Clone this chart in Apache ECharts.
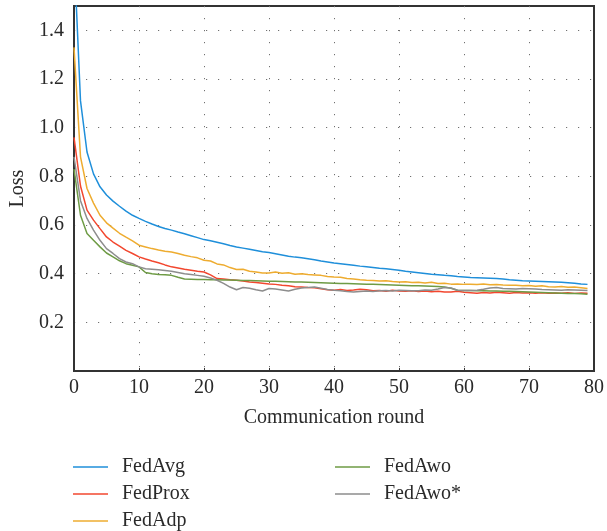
<!DOCTYPE html>
<html>
<head>
<meta charset="utf-8">
<style>html,body{margin:0;padding:0;background:#fff;}#chart{width:607px;height:531px;}</style>
<script src="https://cdn.jsdelivr.net/npm/echarts@6/dist/echarts.min.js"></script>
</head>
<body>
<div id="chart"></div>
<script>
const rounds = Array.from({length: 80}, (_, i) => i);
const seriesNames = ['FedAvg', 'FedProx', 'FedAdp', 'FedAwo', 'FedAwo*'];
const fedAvg = [1.72,1.11,0.90,0.81,0.757,0.723,0.698,0.677,0.657,0.640,0.627,
0.615,0.604,0.594,0.586,0.579,0.571,0.564,0.556,0.548,0.540,
0.535,0.529,0.523,0.516,0.510,0.505,0.500,0.495,0.490,0.487,
0.482,0.477,0.472,0.468,0.465,0.461,0.457,0.452,0.448,0.444,
0.441,0.438,0.435,0.431,0.428,0.425,0.422,0.420,0.417,0.414,
0.410,0.407,0.404,0.401,0.398,0.396,0.393,0.391,0.388,0.386,
0.384,0.383,0.382,0.381,0.380,0.378,0.375,0.373,0.371,0.370,
0.369,0.368,0.367,0.366,0.365,0.363,0.361,0.358,0.356];
const fedProx = [0.96,0.76,0.661,0.62,0.585,0.551,0.53,0.513,0.496,0.483,0.469,
0.460,0.452,0.445,0.436,0.428,0.423,0.418,0.414,0.410,0.407,
0.395,0.380,0.378,0.375,0.373,0.370,0.366,0.364,0.361,0.358,
0.356,0.352,0.350,0.346,0.345,0.343,0.342,0.338,0.334,0.332,
0.335,0.331,0.333,0.336,0.334,0.330,0.331,0.328,0.332,0.329,
0.328,0.330,0.327,0.329,0.326,0.328,0.325,0.325,0.328,0.324,
0.322,0.320,0.323,0.321,0.324,0.322,0.320,0.323,0.321,0.322,
0.320,0.322,0.319,0.321,0.320,0.322,0.319,0.321,0.320];
const fedAdp = [1.33,0.88,0.75,0.69,0.64,0.609,0.587,0.566,0.55,0.535,0.517,
0.510,0.503,0.497,0.492,0.489,0.483,0.476,0.470,0.465,0.455,
0.452,0.440,0.436,0.425,0.417,0.418,0.410,0.407,0.403,0.403,
0.407,0.402,0.404,0.398,0.400,0.397,0.395,0.393,0.388,0.386,
0.385,0.380,0.378,0.375,0.373,0.372,0.370,0.371,0.368,0.366,
0.367,0.364,0.365,0.362,0.365,0.360,0.361,0.357,0.358,0.356,
0.357,0.355,0.358,0.354,0.355,0.353,0.352,0.352,0.350,0.351,
0.348,0.350,0.346,0.345,0.347,0.344,0.345,0.342,0.339];
const fedAwo = [0.83,0.64,0.565,0.537,0.51,0.485,0.469,0.453,0.441,0.435,0.428,
0.405,0.400,0.397,0.396,0.393,0.385,0.378,0.377,0.376,0.376,
0.375,0.375,0.374,0.374,0.373,0.372,0.372,0.371,0.370,0.369,
0.369,0.368,0.367,0.366,0.366,0.365,0.364,0.363,0.362,0.361,
0.360,0.360,0.359,0.358,0.357,0.356,0.355,0.354,0.353,0.352,
0.351,0.350,0.350,0.349,0.348,0.347,0.345,0.340,0.332,0.331,
0.331,0.330,0.330,0.329,0.329,0.328,0.328,0.327,0.326,0.325,
0.324,0.323,0.322,0.321,0.320,0.319,0.318,0.317,0.315];
const fedAwoStar = [0.88,0.70,0.627,0.579,0.537,0.503,0.483,0.462,0.448,0.441,0.428,
0.420,0.418,0.416,0.413,0.410,0.405,0.400,0.397,0.393,0.389,
0.382,0.373,0.360,0.345,0.334,0.343,0.340,0.334,0.329,0.339,
0.337,0.333,0.329,0.336,0.341,0.343,0.345,0.340,0.335,0.332,
0.330,0.327,0.325,0.327,0.329,0.327,0.330,0.331,0.329,0.332,
0.331,0.330,0.330,0.333,0.332,0.337,0.343,0.341,0.332,0.331,
0.331,0.332,0.336,0.341,0.343,0.339,0.338,0.337,0.339,0.338,
0.337,0.335,0.334,0.333,0.332,0.334,0.333,0.332,0.331];
const xTicks = [0,10,20,30,40,50,60,70,80];
const yTicks = [0.2,0.4,0.6,0.8,1.0,1.2,1.4];

const colors = ['#1f8fda', '#f2472f', '#eeac30', '#6e9b45', '#8d8d8d'];
const allData = [fedAvg, fedProx, fedAdp, fedAwo, fedAwoStar];
const FONT = 'Liberation Serif';
const FS = 20;
const TXT = '#2a2a2a';

const chart = echarts.init(document.getElementById('chart'));
const dotted = {color: '#707070', width: 1, type: [1.2, 10.8]};
const legendBase = {
  orient: 'vertical', top: 457, padding: 0, itemWidth: 35, itemHeight: 1.6, itemGap: 7,
  icon: 'rect',
  textStyle: {fontFamily: FONT, fontSize: FS, color: TXT, padding: [0, 0, 0, 9]}
};
chart.setOption({
  animation: false,
  color: colors,
  grid: {left: 73, right: 11, top: 6, bottom: 160, show: true, borderColor: '#333', borderWidth: 2},
  legend: [
    Object.assign({left: 73, data: seriesNames.slice(0, 3)}, legendBase),
    Object.assign({left: 335, data: seriesNames.slice(3)}, legendBase)
  ],
  xAxis: {
    type: 'value', min: 0, max: 80, interval: 10,
    name: 'Communication round', nameLocation: 'middle', nameGap: 37,
    nameTextStyle: {fontFamily: FONT, fontSize: FS, color: TXT},
    axisLine: {lineStyle: {color: '#333', width: 2}},
    axisTick: {show: true, inside: true, length: 3, lineStyle: {color: '#333'}},
    axisLabel: {fontFamily: FONT, fontSize: FS, color: TXT, margin: 7,
      formatter: v => xTicks.includes(v) ? String(v) : ''},
    splitLine: {show: true, showMinLine: false, showMaxLine: false, lineStyle: dotted}
  },
  yAxis: {
    type: 'value', min: 0, max: 1.5, interval: 0.2,
    name: 'Loss', nameLocation: 'middle', nameGap: 46,
    nameTextStyle: {fontFamily: FONT, fontSize: FS, color: TXT},
    axisLine: {lineStyle: {color: '#333', width: 2}},
    axisTick: {show: false},
    axisLabel: {fontFamily: FONT, fontSize: FS, color: TXT, margin: 10, showMinLabel: false, showMaxLabel: false,
      formatter: v => { const t = yTicks.find(y => Math.abs(y - v) < 1e-6); return t === undefined ? '' : t.toFixed(1); }},
    splitLine: {show: true, showMinLine: false, showMaxLine: false, lineStyle: dotted}
  },
  series: seriesNames.map((n, i) => ({
    name: n, type: 'line', symbol: 'none', clip: true,
    lineStyle: {width: 1.5, color: colors[i]},
    itemStyle: {color: colors[i]},
    data: rounds.map((r, j) => [r, allData[i][j]])
  }))
});
</script>
</body>
</html>
